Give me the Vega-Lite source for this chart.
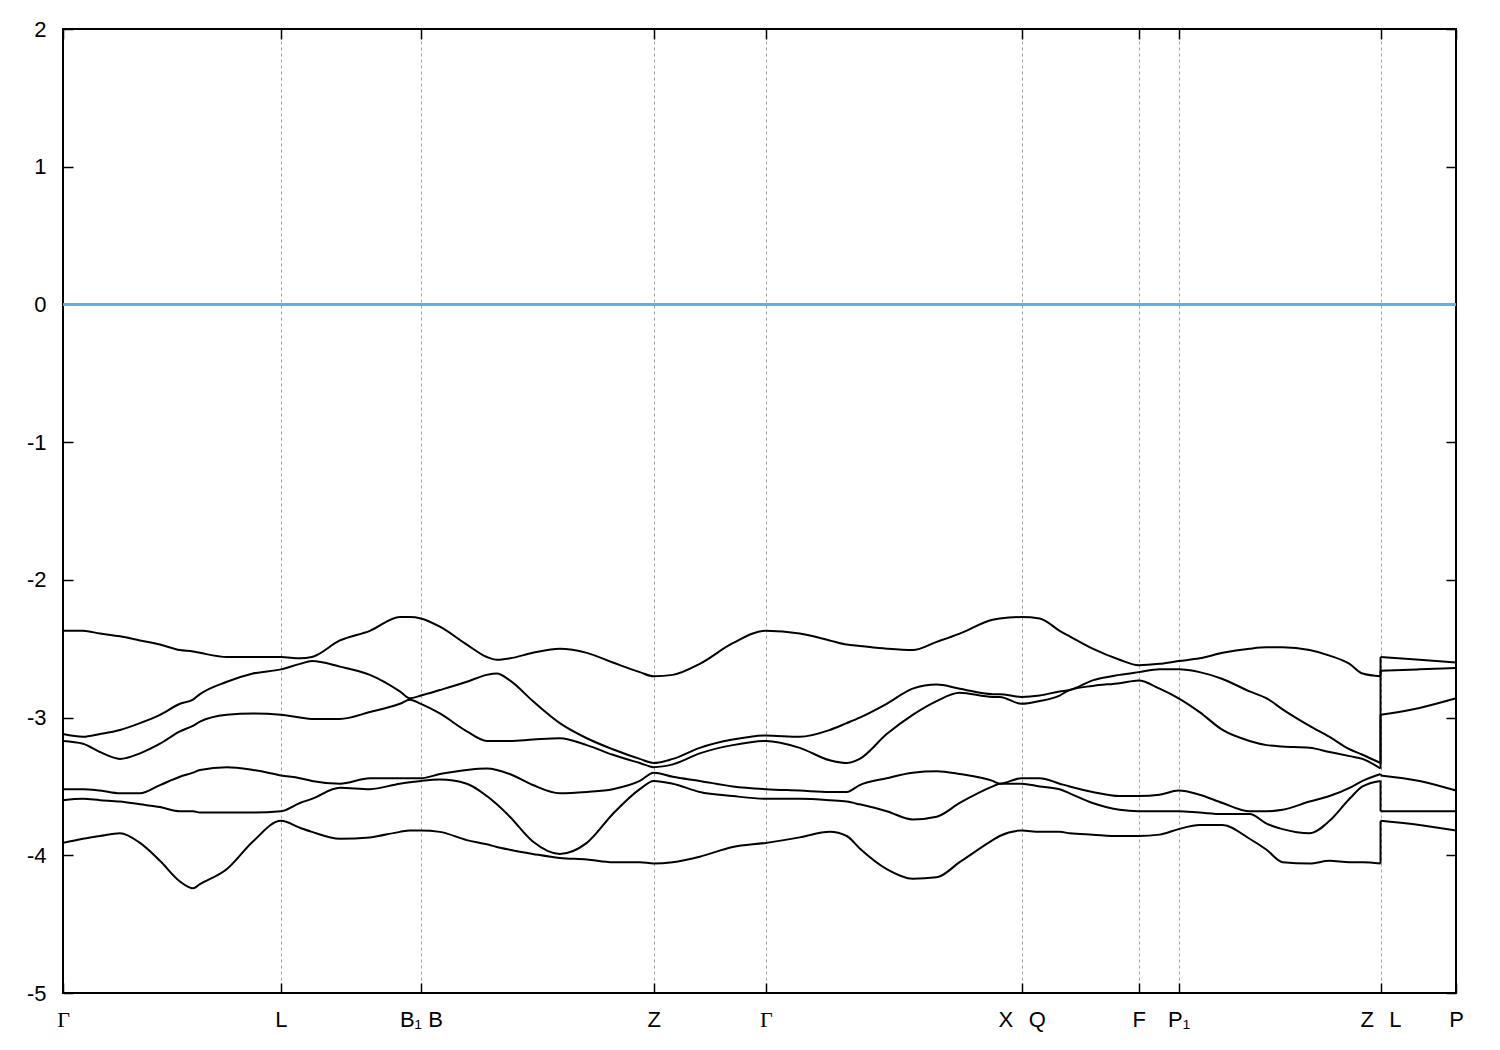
{
  "$schema": "https://vega.github.io/schema/vega-lite/v6.json",
  "width": 1393,
  "height": 964,
  "autosize": {"type": "none"},
  "padding": {"left": 63, "top": 29, "right": 44, "bottom": 57},
  "background": "white",
  "config": {
    "view": {"stroke": "black", "strokeWidth": 2},
    "axis": {"labelFont": "Liberation Sans", "labelFontSize": 22, "labelColor": "black", "tickColor": "black", "tickWidth": 1.5, "title": null, "domain": false}
  },
  "data": {"values": [
{"b":6,"i":0,"k":0,"e":-2.37},{"b":6,"i":1,"k":0.2,"e":-2.37},{"b":6,"i":2,"k":0.37,"e":-2.39},{"b":6,"i":3,"k":0.57,"e":-2.41},{"b":6,"i":4,"k":0.77,"e":-2.44},{"b":6,"i":5,"k":0.97,"e":-2.47},{"b":6,"i":6,"k":1.17,"e":-2.51},{"b":6,"i":7,"k":1.3,"e":-2.52},{"b":6,"i":8,"k":1.37,"e":-2.53},{"b":6,"i":9,"k":1.64,"e":-2.56},{"b":6,"i":10,"k":1.9,"e":-2.56},{"b":6,"i":11,"k":2.18,"e":-2.56},{"b":6,"i":12,"k":2.37,"e":-2.57},{"b":6,"i":13,"k":2.49,"e":-2.56},{"b":6,"i":14,"k":2.77,"e":-2.44},{"b":6,"i":15,"k":3.07,"e":-2.37},{"b":6,"i":16,"k":3.37,"e":-2.27},{"b":6,"i":17,"k":3.47,"e":-2.27},{"b":6,"i":18,"k":3.58,"e":-2.28},{"b":6,"i":19,"k":3.77,"e":-2.34},{"b":6,"i":20,"k":4.04,"e":-2.47},{"b":6,"i":21,"k":4.24,"e":-2.56},{"b":6,"i":22,"k":4.34,"e":-2.58},{"b":6,"i":23,"k":4.47,"e":-2.57},{"b":6,"i":24,"k":4.7,"e":-2.53},{"b":6,"i":25,"k":4.97,"e":-2.5},{"b":6,"i":26,"k":5.24,"e":-2.53},{"b":6,"i":27,"k":5.5,"e":-2.6},{"b":6,"i":28,"k":5.77,"e":-2.67},{"b":6,"i":29,"k":5.91,"e":-2.7},{"b":6,"i":30,"k":6.1,"e":-2.69},{"b":6,"i":31,"k":6.37,"e":-2.61},{"b":6,"i":32,"k":6.7,"e":-2.46},{"b":6,"i":33,"k":7.03,"e":-2.37},{"b":6,"i":34,"k":7.37,"e":-2.39},{"b":6,"i":35,"k":7.67,"e":-2.44},{"b":6,"i":36,"k":7.84,"e":-2.47},{"b":6,"i":37,"k":7.97,"e":-2.48},{"b":6,"i":38,"k":8.24,"e":-2.5},{"b":6,"i":39,"k":8.5,"e":-2.51},{"b":6,"i":40,"k":8.74,"e":-2.45},{"b":6,"i":41,"k":8.97,"e":-2.39},{"b":6,"i":42,"k":9.3,"e":-2.29},{"b":6,"i":43,"k":9.37,"e":-2.28},{"b":6,"i":44,"k":9.59,"e":-2.27},{"b":6,"i":45,"k":9.77,"e":-2.28},{"b":6,"i":46,"k":9.97,"e":-2.37},{"b":6,"i":47,"k":10.07,"e":-2.41},{"b":6,"i":48,"k":10.3,"e":-2.5},{"b":6,"i":49,"k":10.57,"e":-2.58},{"b":6,"i":50,"k":10.76,"e":-2.62},{"b":6,"i":51,"k":10.97,"e":-2.61},{"b":6,"i":52,"k":11.16,"e":-2.59},{"b":6,"i":53,"k":11.37,"e":-2.57},{"b":6,"i":54,"k":11.6,"e":-2.53},{"b":6,"i":55,"k":11.87,"e":-2.5},{"b":6,"i":56,"k":12.04,"e":-2.49},{"b":6,"i":57,"k":12.2,"e":-2.49},{"b":6,"i":58,"k":12.47,"e":-2.51},{"b":6,"i":59,"k":12.67,"e":-2.55},{"b":6,"i":60,"k":12.87,"e":-2.61},{"b":6,"i":61,"k":13.0,"e":-2.68},{"b":6,"i":62,"k":13.18,"e":-2.7},{"b":6,"i":63,"k":13.18,"e":-2.56},{"b":6,"i":64,"k":13.57,"e":-2.58},{"b":6,"i":65,"k":13.935,"e":-2.6},
{"b":5,"i":0,"k":0,"e":-3.12},{"b":5,"i":1,"k":0.2,"e":-3.14},{"b":5,"i":2,"k":0.37,"e":-3.12},{"b":5,"i":3,"k":0.57,"e":-3.09},{"b":5,"i":4,"k":0.77,"e":-3.04},{"b":5,"i":5,"k":0.97,"e":-2.98},{"b":5,"i":6,"k":1.17,"e":-2.9},{"b":5,"i":7,"k":1.3,"e":-2.87},{"b":5,"i":8,"k":1.37,"e":-2.83},{"b":5,"i":9,"k":1.64,"e":-2.74},{"b":5,"i":10,"k":1.9,"e":-2.68},{"b":5,"i":11,"k":2.18,"e":-2.65},{"b":5,"i":12,"k":2.37,"e":-2.61},{"b":5,"i":13,"k":2.49,"e":-2.59},{"b":5,"i":14,"k":2.77,"e":-2.63},{"b":5,"i":15,"k":3.07,"e":-2.69},{"b":5,"i":16,"k":3.37,"e":-2.81},{"b":5,"i":17,"k":3.47,"e":-2.86},{"b":5,"i":18,"k":3.58,"e":-2.84},{"b":5,"i":19,"k":3.77,"e":-2.8},{"b":5,"i":20,"k":4.04,"e":-2.74},{"b":5,"i":21,"k":4.24,"e":-2.69},{"b":5,"i":22,"k":4.34,"e":-2.68},{"b":5,"i":23,"k":4.47,"e":-2.73},{"b":5,"i":24,"k":4.7,"e":-2.88},{"b":5,"i":25,"k":4.97,"e":-3.04},{"b":5,"i":26,"k":5.24,"e":-3.15},{"b":5,"i":27,"k":5.5,"e":-3.23},{"b":5,"i":28,"k":5.77,"e":-3.3},{"b":5,"i":29,"k":5.91,"e":-3.33},{"b":5,"i":30,"k":6.1,"e":-3.3},{"b":5,"i":31,"k":6.37,"e":-3.22},{"b":5,"i":32,"k":6.7,"e":-3.16},{"b":5,"i":33,"k":7.03,"e":-3.13},{"b":5,"i":34,"k":7.37,"e":-3.14},{"b":5,"i":35,"k":7.67,"e":-3.09},{"b":5,"i":36,"k":7.84,"e":-3.04},{"b":5,"i":37,"k":7.97,"e":-3.0},{"b":5,"i":38,"k":8.24,"e":-2.9},{"b":5,"i":39,"k":8.5,"e":-2.79},{"b":5,"i":40,"k":8.74,"e":-2.76},{"b":5,"i":41,"k":8.97,"e":-2.79},{"b":5,"i":42,"k":9.3,"e":-2.83},{"b":5,"i":43,"k":9.37,"e":-2.83},{"b":5,"i":44,"k":9.59,"e":-2.85},{"b":5,"i":45,"k":9.77,"e":-2.84},{"b":5,"i":46,"k":9.97,"e":-2.81},{"b":5,"i":47,"k":10.07,"e":-2.8},{"b":5,"i":48,"k":10.3,"e":-2.73},{"b":5,"i":49,"k":10.57,"e":-2.69},{"b":5,"i":50,"k":10.76,"e":-2.67},{"b":5,"i":51,"k":10.97,"e":-2.65},{"b":5,"i":52,"k":11.16,"e":-2.65},{"b":5,"i":53,"k":11.37,"e":-2.67},{"b":5,"i":54,"k":11.6,"e":-2.72},{"b":5,"i":55,"k":11.87,"e":-2.81},{"b":5,"i":56,"k":12.04,"e":-2.86},{"b":5,"i":57,"k":12.2,"e":-2.94},{"b":5,"i":58,"k":12.47,"e":-3.06},{"b":5,"i":59,"k":12.67,"e":-3.14},{"b":5,"i":60,"k":12.87,"e":-3.23},{"b":5,"i":61,"k":13.0,"e":-3.27},{"b":5,"i":62,"k":13.18,"e":-3.33},{"b":5,"i":63,"k":13.18,"e":-2.66},{"b":5,"i":64,"k":13.57,"e":-2.65},{"b":5,"i":65,"k":13.935,"e":-2.64},
{"b":4,"i":0,"k":0,"e":-3.17},{"b":4,"i":1,"k":0.2,"e":-3.19},{"b":4,"i":2,"k":0.37,"e":-3.25},{"b":4,"i":3,"k":0.57,"e":-3.3},{"b":4,"i":4,"k":0.77,"e":-3.26},{"b":4,"i":5,"k":0.97,"e":-3.19},{"b":4,"i":6,"k":1.17,"e":-3.1},{"b":4,"i":7,"k":1.3,"e":-3.06},{"b":4,"i":8,"k":1.37,"e":-3.03},{"b":4,"i":9,"k":1.64,"e":-2.98},{"b":4,"i":10,"k":1.9,"e":-2.97},{"b":4,"i":11,"k":2.18,"e":-2.98},{"b":4,"i":12,"k":2.37,"e":-3.0},{"b":4,"i":13,"k":2.49,"e":-3.01},{"b":4,"i":14,"k":2.77,"e":-3.01},{"b":4,"i":15,"k":3.07,"e":-2.96},{"b":4,"i":16,"k":3.37,"e":-2.9},{"b":4,"i":17,"k":3.47,"e":-2.87},{"b":4,"i":18,"k":3.58,"e":-2.9},{"b":4,"i":19,"k":3.77,"e":-2.97},{"b":4,"i":20,"k":4.04,"e":-3.1},{"b":4,"i":21,"k":4.24,"e":-3.17},{"b":4,"i":22,"k":4.34,"e":-3.17},{"b":4,"i":23,"k":4.47,"e":-3.17},{"b":4,"i":24,"k":4.7,"e":-3.16},{"b":4,"i":25,"k":4.97,"e":-3.15},{"b":4,"i":26,"k":5.24,"e":-3.2},{"b":4,"i":27,"k":5.5,"e":-3.27},{"b":4,"i":28,"k":5.77,"e":-3.33},{"b":4,"i":29,"k":5.91,"e":-3.36},{"b":4,"i":30,"k":6.1,"e":-3.34},{"b":4,"i":31,"k":6.37,"e":-3.26},{"b":4,"i":32,"k":6.7,"e":-3.2},{"b":4,"i":33,"k":7.03,"e":-3.17},{"b":4,"i":34,"k":7.37,"e":-3.22},{"b":4,"i":35,"k":7.67,"e":-3.31},{"b":4,"i":36,"k":7.84,"e":-3.33},{"b":4,"i":37,"k":7.97,"e":-3.3},{"b":4,"i":38,"k":8.24,"e":-3.12},{"b":4,"i":39,"k":8.5,"e":-2.98},{"b":4,"i":40,"k":8.74,"e":-2.88},{"b":4,"i":41,"k":8.97,"e":-2.82},{"b":4,"i":42,"k":9.3,"e":-2.85},{"b":4,"i":43,"k":9.37,"e":-2.85},{"b":4,"i":44,"k":9.59,"e":-2.9},{"b":4,"i":45,"k":9.77,"e":-2.88},{"b":4,"i":46,"k":9.97,"e":-2.84},{"b":4,"i":47,"k":10.07,"e":-2.8},{"b":4,"i":48,"k":10.3,"e":-2.77},{"b":4,"i":49,"k":10.57,"e":-2.75},{"b":4,"i":50,"k":10.76,"e":-2.73},{"b":4,"i":51,"k":10.97,"e":-2.79},{"b":4,"i":52,"k":11.16,"e":-2.86},{"b":4,"i":53,"k":11.37,"e":-2.96},{"b":4,"i":54,"k":11.6,"e":-3.09},{"b":4,"i":55,"k":11.87,"e":-3.17},{"b":4,"i":56,"k":12.04,"e":-3.2},{"b":4,"i":57,"k":12.2,"e":-3.21},{"b":4,"i":58,"k":12.47,"e":-3.22},{"b":4,"i":59,"k":12.67,"e":-3.25},{"b":4,"i":60,"k":12.87,"e":-3.28},{"b":4,"i":61,"k":13.0,"e":-3.3},{"b":4,"i":62,"k":13.18,"e":-3.37},{"b":4,"i":63,"k":13.18,"e":-2.98},{"b":4,"i":64,"k":13.57,"e":-2.93},{"b":4,"i":65,"k":13.935,"e":-2.86},
{"b":3,"i":0,"k":0,"e":-3.52},{"b":3,"i":1,"k":0.2,"e":-3.52},{"b":3,"i":2,"k":0.37,"e":-3.53},{"b":3,"i":3,"k":0.57,"e":-3.55},{"b":3,"i":4,"k":0.77,"e":-3.55},{"b":3,"i":5,"k":0.97,"e":-3.49},{"b":3,"i":6,"k":1.17,"e":-3.43},{"b":3,"i":7,"k":1.3,"e":-3.4},{"b":3,"i":8,"k":1.37,"e":-3.38},{"b":3,"i":9,"k":1.64,"e":-3.36},{"b":3,"i":10,"k":1.9,"e":-3.38},{"b":3,"i":11,"k":2.18,"e":-3.42},{"b":3,"i":12,"k":2.37,"e":-3.44},{"b":3,"i":13,"k":2.49,"e":-3.46},{"b":3,"i":14,"k":2.77,"e":-3.48},{"b":3,"i":15,"k":3.07,"e":-3.44},{"b":3,"i":16,"k":3.37,"e":-3.44},{"b":3,"i":17,"k":3.47,"e":-3.44},{"b":3,"i":18,"k":3.58,"e":-3.44},{"b":3,"i":19,"k":3.77,"e":-3.41},{"b":3,"i":20,"k":4.04,"e":-3.38},{"b":3,"i":21,"k":4.24,"e":-3.37},{"b":3,"i":22,"k":4.34,"e":-3.38},{"b":3,"i":23,"k":4.47,"e":-3.41},{"b":3,"i":24,"k":4.7,"e":-3.49},{"b":3,"i":25,"k":4.97,"e":-3.55},{"b":3,"i":26,"k":5.24,"e":-3.54},{"b":3,"i":27,"k":5.5,"e":-3.52},{"b":3,"i":28,"k":5.77,"e":-3.46},{"b":3,"i":29,"k":5.91,"e":-3.4},{"b":3,"i":30,"k":6.1,"e":-3.43},{"b":3,"i":31,"k":6.37,"e":-3.46},{"b":3,"i":32,"k":6.7,"e":-3.5},{"b":3,"i":33,"k":7.03,"e":-3.52},{"b":3,"i":34,"k":7.37,"e":-3.53},{"b":3,"i":35,"k":7.67,"e":-3.54},{"b":3,"i":36,"k":7.84,"e":-3.54},{"b":3,"i":37,"k":7.97,"e":-3.49},{"b":3,"i":38,"k":8.24,"e":-3.44},{"b":3,"i":39,"k":8.5,"e":-3.4},{"b":3,"i":40,"k":8.74,"e":-3.39},{"b":3,"i":41,"k":8.97,"e":-3.41},{"b":3,"i":42,"k":9.3,"e":-3.46},{"b":3,"i":43,"k":9.37,"e":-3.48},{"b":3,"i":44,"k":9.59,"e":-3.44},{"b":3,"i":45,"k":9.77,"e":-3.44},{"b":3,"i":46,"k":9.97,"e":-3.48},{"b":3,"i":47,"k":10.07,"e":-3.5},{"b":3,"i":48,"k":10.3,"e":-3.54},{"b":3,"i":49,"k":10.57,"e":-3.57},{"b":3,"i":50,"k":10.76,"e":-3.57},{"b":3,"i":51,"k":10.97,"e":-3.56},{"b":3,"i":52,"k":11.16,"e":-3.53},{"b":3,"i":53,"k":11.37,"e":-3.56},{"b":3,"i":54,"k":11.6,"e":-3.62},{"b":3,"i":55,"k":11.87,"e":-3.68},{"b":3,"i":56,"k":12.04,"e":-3.68},{"b":3,"i":57,"k":12.2,"e":-3.67},{"b":3,"i":58,"k":12.47,"e":-3.61},{"b":3,"i":59,"k":12.67,"e":-3.57},{"b":3,"i":60,"k":12.87,"e":-3.51},{"b":3,"i":61,"k":13.0,"e":-3.46},{"b":3,"i":62,"k":13.18,"e":-3.41},{"b":3,"i":63,"k":13.18,"e":-3.42},{"b":3,"i":64,"k":13.57,"e":-3.46},{"b":3,"i":65,"k":13.935,"e":-3.53},
{"b":2,"i":0,"k":0,"e":-3.6},{"b":2,"i":1,"k":0.2,"e":-3.59},{"b":2,"i":2,"k":0.37,"e":-3.6},{"b":2,"i":3,"k":0.57,"e":-3.61},{"b":2,"i":4,"k":0.77,"e":-3.63},{"b":2,"i":5,"k":0.97,"e":-3.65},{"b":2,"i":6,"k":1.17,"e":-3.68},{"b":2,"i":7,"k":1.3,"e":-3.68},{"b":2,"i":8,"k":1.37,"e":-3.69},{"b":2,"i":9,"k":1.64,"e":-3.69},{"b":2,"i":10,"k":1.9,"e":-3.69},{"b":2,"i":11,"k":2.18,"e":-3.68},{"b":2,"i":12,"k":2.37,"e":-3.62},{"b":2,"i":13,"k":2.49,"e":-3.59},{"b":2,"i":14,"k":2.77,"e":-3.51},{"b":2,"i":15,"k":3.07,"e":-3.52},{"b":2,"i":16,"k":3.37,"e":-3.48},{"b":2,"i":17,"k":3.47,"e":-3.47},{"b":2,"i":18,"k":3.58,"e":-3.46},{"b":2,"i":19,"k":3.77,"e":-3.45},{"b":2,"i":20,"k":4.04,"e":-3.48},{"b":2,"i":21,"k":4.24,"e":-3.57},{"b":2,"i":22,"k":4.34,"e":-3.63},{"b":2,"i":23,"k":4.47,"e":-3.72},{"b":2,"i":24,"k":4.7,"e":-3.9},{"b":2,"i":25,"k":4.97,"e":-3.99},{"b":2,"i":26,"k":5.24,"e":-3.91},{"b":2,"i":27,"k":5.5,"e":-3.7},{"b":2,"i":28,"k":5.77,"e":-3.52},{"b":2,"i":29,"k":5.91,"e":-3.46},{"b":2,"i":30,"k":6.1,"e":-3.48},{"b":2,"i":31,"k":6.37,"e":-3.54},{"b":2,"i":32,"k":6.7,"e":-3.57},{"b":2,"i":33,"k":7.03,"e":-3.59},{"b":2,"i":34,"k":7.37,"e":-3.59},{"b":2,"i":35,"k":7.67,"e":-3.6},{"b":2,"i":36,"k":7.84,"e":-3.61},{"b":2,"i":37,"k":7.97,"e":-3.63},{"b":2,"i":38,"k":8.24,"e":-3.68},{"b":2,"i":39,"k":8.5,"e":-3.74},{"b":2,"i":40,"k":8.74,"e":-3.72},{"b":2,"i":41,"k":8.97,"e":-3.62},{"b":2,"i":42,"k":9.3,"e":-3.5},{"b":2,"i":43,"k":9.37,"e":-3.48},{"b":2,"i":44,"k":9.59,"e":-3.48},{"b":2,"i":45,"k":9.77,"e":-3.5},{"b":2,"i":46,"k":9.97,"e":-3.52},{"b":2,"i":47,"k":10.07,"e":-3.55},{"b":2,"i":48,"k":10.3,"e":-3.62},{"b":2,"i":49,"k":10.57,"e":-3.67},{"b":2,"i":50,"k":10.76,"e":-3.68},{"b":2,"i":51,"k":10.97,"e":-3.68},{"b":2,"i":52,"k":11.16,"e":-3.68},{"b":2,"i":53,"k":11.37,"e":-3.69},{"b":2,"i":54,"k":11.6,"e":-3.7},{"b":2,"i":55,"k":11.87,"e":-3.7},{"b":2,"i":56,"k":12.04,"e":-3.77},{"b":2,"i":57,"k":12.2,"e":-3.81},{"b":2,"i":58,"k":12.47,"e":-3.84},{"b":2,"i":59,"k":12.67,"e":-3.75},{"b":2,"i":60,"k":12.87,"e":-3.59},{"b":2,"i":61,"k":13.0,"e":-3.5},{"b":2,"i":62,"k":13.18,"e":-3.46},{"b":2,"i":63,"k":13.18,"e":-3.68},{"b":2,"i":64,"k":13.57,"e":-3.68},{"b":2,"i":65,"k":13.935,"e":-3.68},
{"b":1,"i":0,"k":0,"e":-3.91},{"b":1,"i":1,"k":0.2,"e":-3.88},{"b":1,"i":2,"k":0.37,"e":-3.86},{"b":1,"i":3,"k":0.57,"e":-3.84},{"b":1,"i":4,"k":0.77,"e":-3.91},{"b":1,"i":5,"k":0.97,"e":-4.04},{"b":1,"i":6,"k":1.17,"e":-4.19},{"b":1,"i":7,"k":1.3,"e":-4.24},{"b":1,"i":8,"k":1.37,"e":-4.21},{"b":1,"i":9,"k":1.64,"e":-4.1},{"b":1,"i":10,"k":1.9,"e":-3.9},{"b":1,"i":11,"k":2.18,"e":-3.75},{"b":1,"i":12,"k":2.37,"e":-3.8},{"b":1,"i":13,"k":2.49,"e":-3.83},{"b":1,"i":14,"k":2.77,"e":-3.88},{"b":1,"i":15,"k":3.07,"e":-3.87},{"b":1,"i":16,"k":3.37,"e":-3.83},{"b":1,"i":17,"k":3.47,"e":-3.82},{"b":1,"i":18,"k":3.58,"e":-3.82},{"b":1,"i":19,"k":3.77,"e":-3.83},{"b":1,"i":20,"k":4.04,"e":-3.89},{"b":1,"i":21,"k":4.24,"e":-3.92},{"b":1,"i":22,"k":4.34,"e":-3.94},{"b":1,"i":23,"k":4.47,"e":-3.96},{"b":1,"i":24,"k":4.7,"e":-3.99},{"b":1,"i":25,"k":4.97,"e":-4.02},{"b":1,"i":26,"k":5.24,"e":-4.03},{"b":1,"i":27,"k":5.5,"e":-4.05},{"b":1,"i":28,"k":5.77,"e":-4.05},{"b":1,"i":29,"k":5.91,"e":-4.06},{"b":1,"i":30,"k":6.1,"e":-4.05},{"b":1,"i":31,"k":6.37,"e":-4.01},{"b":1,"i":32,"k":6.7,"e":-3.94},{"b":1,"i":33,"k":7.03,"e":-3.91},{"b":1,"i":34,"k":7.37,"e":-3.87},{"b":1,"i":35,"k":7.67,"e":-3.83},{"b":1,"i":36,"k":7.84,"e":-3.86},{"b":1,"i":37,"k":7.97,"e":-3.95},{"b":1,"i":38,"k":8.24,"e":-4.1},{"b":1,"i":39,"k":8.5,"e":-4.17},{"b":1,"i":40,"k":8.74,"e":-4.16},{"b":1,"i":41,"k":8.97,"e":-4.05},{"b":1,"i":42,"k":9.3,"e":-3.89},{"b":1,"i":43,"k":9.37,"e":-3.86},{"b":1,"i":44,"k":9.59,"e":-3.82},{"b":1,"i":45,"k":9.77,"e":-3.83},{"b":1,"i":46,"k":9.97,"e":-3.83},{"b":1,"i":47,"k":10.07,"e":-3.84},{"b":1,"i":48,"k":10.3,"e":-3.85},{"b":1,"i":49,"k":10.57,"e":-3.86},{"b":1,"i":50,"k":10.76,"e":-3.86},{"b":1,"i":51,"k":10.97,"e":-3.85},{"b":1,"i":52,"k":11.16,"e":-3.81},{"b":1,"i":53,"k":11.37,"e":-3.78},{"b":1,"i":54,"k":11.6,"e":-3.78},{"b":1,"i":55,"k":11.87,"e":-3.88},{"b":1,"i":56,"k":12.04,"e":-3.96},{"b":1,"i":57,"k":12.2,"e":-4.05},{"b":1,"i":58,"k":12.47,"e":-4.06},{"b":1,"i":59,"k":12.67,"e":-4.04},{"b":1,"i":60,"k":12.87,"e":-4.05},{"b":1,"i":61,"k":13.0,"e":-4.05},{"b":1,"i":62,"k":13.18,"e":-4.06},{"b":1,"i":63,"k":13.18,"e":-3.75},{"b":1,"i":64,"k":13.57,"e":-3.78},{"b":1,"i":65,"k":13.935,"e":-3.82}
  ]},
  "layer": [
    {
      "mark": {"type": "rule", "color": "#56b4e9", "strokeWidth": 1.5},
      "encoding": {"y": {"datum": 0, "type": "quantitative", "axis": null}}
    },
    {
      "transform": [{"filter": "datum.i <= 62"}],
      "mark": {"type": "line", "color": "black", "strokeWidth": 2, "interpolate": "monotone", "strokeJoin": "round"},
      "encoding": {
        "x": {"field": "k", "type": "quantitative", "scale": {"domain": [0, 13.935], "nice": false, "zero": false},
          "axis": {"orient": "bottom", "values": [0, 2.18, 3.58, 5.91, 7.03, 9.59, 10.76, 11.16, 13.18, 13.935],
            "labelExpr": "datum.value < 1 ? 'Γ' : datum.value < 3 ? 'L' : datum.value < 4 ? 'B₁ B' : datum.value < 6.5 ? 'Z' : datum.value < 8 ? 'Γ' : datum.value < 10 ? 'X\u2002\u2009Q' : datum.value < 11 ? 'F' : datum.value < 12 ? 'P₁' : datum.value < 13.5 ? 'Z\u2002\u2009L' : 'P'",
            "labelFont": {"condition": {"test": "datum.value < 0.5 || (datum.value > 7 && datum.value < 7.1)", "value": "Liberation Serif"}, "value": "Liberation Sans"},
            "grid": true, "gridDash": [3, 3], "gridColor": "#a0a0a0", "gridWidth": 1,
            "gridOpacity": {"condition": {"test": "datum.value < 0.1 || datum.value > 13.9", "value": 0}, "value": 1},
            "tickSize": -10, "labelPadding": 26, "labelOverlap": false, "labelFlush": false, "labelBound": false, "labelBaseline": "top"}},
        "y": {"field": "e", "type": "quantitative", "scale": {"domain": [-5, 2], "nice": false, "zero": false},
          "axis": {"orient": "left", "values": [-5, -4, -3, -2, -1, 0, 1, 2], "labelExpr": "'' + datum.value", "grid": false, "tickSize": -10, "labelPadding": 27, "labelOverlap": false, "labelFlush": false}},
        "detail": {"field": "b", "type": "nominal"},
        "order": {"field": "i", "type": "quantitative"}
      }
    },
    {
      "transform": [{"filter": "datum.i >= 63"}],
      "mark": {"type": "line", "color": "black", "strokeWidth": 2, "interpolate": "monotone", "strokeJoin": "round"},
      "encoding": {
        "x": {"field": "k", "type": "quantitative", "axis": null},
        "y": {"field": "e", "type": "quantitative", "axis": null},
        "detail": {"field": "b", "type": "nominal"},
        "order": {"field": "i", "type": "quantitative"}
      }
    },
    {
      "transform": [
        {"filter": "datum.i == 62 || datum.i == 63"},
        {"aggregate": [{"op": "min", "field": "e", "as": "lo"}, {"op": "max", "field": "e", "as": "hi"}], "groupby": ["b", "k"]}
      ],
      "mark": {"type": "rule", "color": "black", "strokeWidth": 2},
      "encoding": {
        "x": {"field": "k", "type": "quantitative", "axis": null},
        "y": {"field": "lo", "type": "quantitative", "axis": null},
        "y2": {"field": "hi"}
      }
    },
    {
      "mark": {"type": "line", "opacity": 0},
      "encoding": {
        "x": {"field": "k", "type": "quantitative", "axis": {"orient": "top", "values": [0, 2.18, 3.58, 5.91, 7.03, 9.59, 10.76, 11.16, 13.18, 13.935], "labels": false, "grid": false, "tickSize": -10}},
        "y": {"field": "e", "type": "quantitative", "axis": {"orient": "right", "values": [-5, -4, -3, -2, -1, 0, 1, 2], "labels": false, "grid": false, "tickSize": -10}},
        "detail": {"field": "b", "type": "nominal"},
        "order": {"field": "i", "type": "quantitative"}
      }
    }
  ],
  "resolve": {"axis": {"x": "independent", "y": "independent"}}
}
